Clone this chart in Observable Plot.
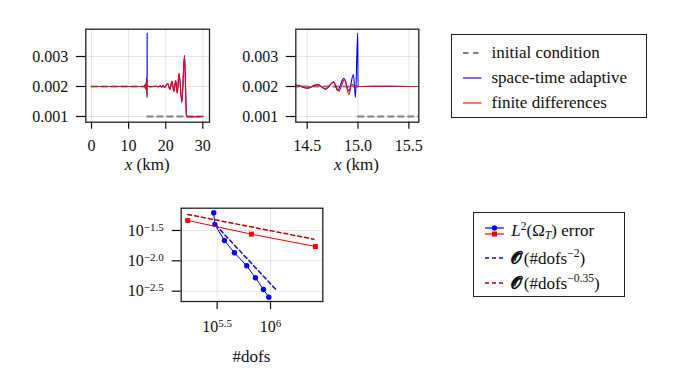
<!DOCTYPE html>
<html><head><meta charset="utf-8">
<script src="https://cdn.jsdelivr.net/npm/d3@7"></script>
<script src="https://cdn.jsdelivr.net/npm/@observablehq/plot@0.6"></script>
<style>
body{margin:0;background:#fff;}
#fig{position:relative;width:676px;height:387px;background:#fff;font-family:'Liberation Serif',serif;color:#111;overflow:hidden;}
#fig svg.pl{position:absolute;overflow:visible;}
.leg{position:absolute;border:1.3px solid #222;box-sizing:border-box;background:#fff;font-size:17px;font-family:'Liberation Serif',serif;}
.row{position:absolute;left:0;right:0;height:24px;}
.row svg{position:absolute;left:0;top:0;}
.row span.t{position:absolute;top:1px;white-space:nowrap;line-height:22px;}
sup{font-size:0.68em;vertical-align:0;position:relative;top:-0.55em;}
sub{font-size:0.68em;vertical-align:0;position:relative;top:0.3em;}
.cal{display:inline-block;font-family:'DejaVu Sans',sans-serif;font-weight:bold;font-size:17px;margin-right:1.5px;}
</style></head>
<body><div id="fig"></div>
<script>
// ---------- panel (a) / (b): solution profiles ----------
const icX = [0, 15, 15, 30];
const icY = [0.002, 0.002, 0.001, 0.001];
const icPart = ["upstream", "upstream", "downstream", "downstream"];

const fdX = [0, 14.3, 14.375, 14.42, 14.5, 14.6, 14.68, 14.76, 14.81, 14.87, 14.91, 14.94, 14.96, 15.0,
  15.3, 15.9, 16.6, 17.3, 18.0, 18.5, 18.9, 19.3, 19.7, 20.1, 20.57, 21.1, 21.67, 22.2, 22.7, 23.1, 23.6, 24.35, 25.07, 25.6, 25.9, 30];
const fdY = [0.002, 0.002, 0.00204, 0.00202, 0.00195, 0.00207, 0.00192, 0.00216, 0.00184, 0.00224, 0.00173, 0.00208, 0.002, 0.002,
  0.00201, 0.00199, 0.002, 0.00201, 0.00199, 0.00202, 0.00198, 0.00203, 0.00197, 0.00204, 0.00209, 0.0019, 0.00217, 0.00184, 0.0022, 0.00178, 0.00244, 0.00148, 0.00303, 0.00103, 0.00099, 0.001];

const adX = [0, 14.3, 14.375, 14.42, 14.5, 14.6, 14.68, 14.76, 14.8, 14.86, 14.91, 14.955, 14.975, 14.997, 15.0,
  15.3, 15.9, 16.6, 17.3, 18.0, 18.5, 18.9, 19.3, 19.7, 20.1, 20.57, 21.1, 21.67, 22.2, 22.7, 23.1, 23.6, 24.35, 25.07, 25.6, 25.9, 30];
const adY = [0.002, 0.002, 0.00205, 0.00203, 0.00194, 0.00206, 0.00191, 0.00214, 0.00187, 0.00227, 0.00185, 0.0024, 0.00163, 0.00378, 0.002,
  0.00201, 0.00199, 0.002, 0.00201, 0.00199, 0.00202, 0.00198, 0.00203, 0.00197, 0.00204, 0.00209, 0.0019, 0.00217, 0.00184, 0.0022, 0.00178, 0.00244, 0.00148, 0.00303, 0.00103, 0.00099, 0.001];

const yTicksAB = [0.001, 0.002, 0.003];
const xTicksA = [0, 10, 20, 30];
const xTicksB = [14.5, 15.0, 15.5];

// ---------- panel (c): convergence ----------
const adDofs = [293800, 300600, 369800, 459200, 598400, 722800, 859000, 963800];
const adErr = [0.0619, 0.0397, 0.0216, 0.01355, 0.00828, 0.00525, 0.00337, 0.00252];
const fdDofs = [167500, 662200, 2636000];
const fdErr = [0.0462, 0.0275, 0.0172];
const rate2Dofs = [304800, 1130000];
const rate2Err = [0.0393, 0.00333];
const rate035Dofs = [167500, 2547000];
const rate035Err = [0.0581, 0.02275];
const xTickExpC = [5.5, 6];
const xTickLabC = ["10^5.5", "10^6"];
const yTickExpC = [-1.5, -2.0, -2.5];
const yTickLabC = ["10^\u22121.5", "10^\u22122.0", "10^\u22122.5"];

// ---------- legends ----------
const legendA = ["initial condition", "space-time adaptive", "finite differences"];
const legendC = ['<i>L</i><sup>2</sup>(\u03A9<sub><i>T</i></sub>) error',
                 '<span class="cal">\uD835\uDCDE</span>(#dofs<sup>\u22122</sup>)',
                 '<span class="cal">\uD835\uDCDE</span>(#dofs<sup>\u22120.35</sup>)'];

const BLUE = "#0000ff", RED = "#ff0000", GRAY = "#808080", DBLUE = "#1010cc", DRED = "#c00000";
const FONT = "'Liberation Serif', serif";

const ic = icX.map((x, i) => ({x, y: icY[i], part: icPart[i]}));
const fd = fdX.map((x, i) => ({x, y: fdY[i]}));
const ad = adX.map((x, i) => ({x, y: adY[i]}));

const fig = document.getElementById("fig");
const baseStyle = {background: "transparent", fontFamily: FONT, fontSize: "16px", color: "#111", overflow: "visible"};
const gridOpt = {stroke: "#000", strokeOpacity: 0.1, strokeWidth: 1};

function place(svg, left, top) {
  svg.classList.add("pl");
  svg.style.left = left + "px";
  svg.style.top = top + "px";
  svg.style.maxWidth = "none";
  svg.setAttribute("font-family", FONT);
  fig.appendChild(svg);
  return svg;
}
function addLabel(svg, x, y, italicPart, rest) {
  const t = d3.select(svg).append("text").attr("x", x).attr("y", y).attr("text-anchor", "middle")
    .style("font-family", FONT).attr("font-size", 17).attr("fill", "#111");
  if (italicPart) t.append("tspan").attr("font-style", "italic").text(italicPart);
  t.append("tspan").text(rest);
}
function profilePanel(xDomain, xTicks, fmt, W, mL, mR, clip) {
  return Plot.plot({
    width: W, height: 180,
    marginLeft: mL, marginRight: mR, marginTop: 28.7, marginBottom: 58.3,
    style: baseStyle,
    x: {domain: xDomain, label: null},
    y: {domain: [0.00081, 0.00391], label: null},
    marks: [
      Plot.gridX(xTicks, gridOpt),
      Plot.gridY(yTicksAB, gridOpt),
      Plot.line(ic, {x: "x", y: "y", z: "part", stroke: GRAY, strokeWidth: 2, strokeDasharray: "5.5,4.5", clip}),
      Plot.line(ad, {x: "x", y: "y", stroke: BLUE, strokeWidth: 1.1, curve: "monotone-x", clip}),
      Plot.line(fd, {x: "x", y: "y", stroke: RED, strokeWidth: 1.1, curve: "monotone-x", clip}),
      Plot.frame({stroke: "#222", strokeWidth: 1.3}),
      Plot.axisX({ticks: xTicks, tickFormat: fmt, tickSize: 7, tickPadding: 10, label: null, strokeWidth: 1.2}),
      Plot.axisY({ticks: yTicksAB, tickFormat: d3.format(".3f"), tickSize: 9.5, tickPadding: 8, label: null, strokeWidth: 1.2})
    ]
  });
}

// Panel A
const pA = place(profilePanel([-1.54, 31.8], xTicksA, d => String(d), 225, 85.3, 16, false), 0, 0);
addLabel(pA, 147.2, 170, "x", " (km)");
// Panel B
const pB = place(profilePanel([14.388, 15.598], xTicksB, d3.format(".1f"), 200, 70.3, 6.7, true), 225, 0);
addLabel(pB, 131.5, 170, "x", " (km)");

// Panel C
const ad2 = adDofs.map((d, i) => ({d, e: adErr[i]}));
const fd2 = fdDofs.map((d, i) => ({d, e: fdErr[i]}));
const r2 = rate2Dofs.map((d, i) => ({d, e: rate2Err[i]}));
const r035 = rate035Dofs.map((d, i) => ({d, e: rate035Err[i]}));
const xTicksC = xTickExpC.map(p => Math.pow(10, p));
const yTicksC = yTickExpC.map(p => Math.pow(10, p));
const nearest = (arrExp, labels) => d => {
  const l = Math.log10(d);
  let best = 0;
  arrExp.forEach((p, i) => { if (Math.abs(p - l) < Math.abs(arrExp[best] - l)) best = i; });
  return labels[best];
};
const pC = place(Plot.plot({
  width: 240, height: 190,
  marginLeft: 80.7, marginRight: 17.7, marginTop: 17.7, marginBottom: 79,
  style: baseStyle,
  x: {type: "log", domain: [Math.pow(10, 5.163), Math.pow(10, 6.49)], label: null},
  y: {type: "log", domain: [Math.pow(10, -2.67), Math.pow(10, -1.133)], label: null},
  marks: [
    Plot.gridX(xTicksC, gridOpt),
    Plot.gridY(yTicksC, gridOpt),
    Plot.line(r2, {x: "d", y: "e", stroke: DBLUE, strokeWidth: 1.5, strokeDasharray: "4,3"}),
    Plot.line(r035, {x: "d", y: "e", stroke: DRED, strokeWidth: 1.5, strokeDasharray: "4,3"}),
    Plot.line(ad2, {x: "d", y: "e", stroke: BLUE, strokeWidth: 1}),
    Plot.dot(ad2, {x: "d", y: "e", fill: BLUE, r: 2.7}),
    Plot.line(fd2, {x: "d", y: "e", stroke: RED, strokeWidth: 1}),
    Plot.dot(fd2, {x: "d", y: "e", fill: RED, symbol: "square", r: 2.8}),
    Plot.frame({stroke: "#222", strokeWidth: 1.3}),
    Plot.axisX({ticks: xTicksC, tickFormat: nearest(xTickExpC, xTickLabC), tickSize: 8, tickPadding: 11, label: null, strokeWidth: 1.2}),
    Plot.axisY({ticks: yTicksC, tickFormat: nearest(yTickExpC, yTickLabC), tickSize: 9, tickPadding: 8.4, label: null, strokeWidth: 1.2})
  ]
}), 100, 190);
d3.select(pC).selectAll("text").each(function () {
  const s = this.textContent;
  const k = s.indexOf("^");
  if (k < 0) return;
  const t = d3.select(this);
  t.selectAll("*").remove();
  t.text(null);
  t.append("tspan").text(s.slice(0, k));
  t.append("tspan").attr("dy", "-0.45em").attr("font-size", "11px").text(s.slice(k + 1));
});
addLabel(pC, 151.5, 172, null, "#dofs");

// Legend A
const legA = d3.select(fig).append("div").attr("class", "leg")
  .style("left", "451px").style("top", "34.3px").style("width", "196px").style("height", "84px");
const styleA = [{c: GRAY, w: 2, dash: "5.5,4.5"}, {c: BLUE, w: 1.1, dash: null}, {c: RED, w: 1.1, dash: null}];
const rowTopA = [5.4, 31, 55.4];
legendA.forEach((name, i) => {
  const r = legA.append("div").attr("class", "row").style("top", rowTopA[i] + "px");
  const s = r.append("svg").attr("width", 40).attr("height", 24);
  s.append("line").attr("x1", 11).attr("x2", 29.5).attr("y1", 12).attr("y2", 12)
    .attr("stroke", styleA[i].c).attr("stroke-width", styleA[i].w).attr("stroke-dasharray", styleA[i].dash);
  r.append("span").attr("class", "t").style("left", "39.5px").text(name);
});

// Legend C
const legC = d3.select(fig).append("div").attr("class", "leg")
  .style("left", "473.3px").style("top", "211.7px").style("width", "152px").style("height", "85px");
const rowTopC = [6.3, 33, 58];
legendC.forEach((html, i) => {
  const r = legC.append("div").attr("class", "row").style("top", rowTopC[i] + "px");
  const s = r.append("svg").attr("width", 40).attr("height", 24);
  if (i === 0) {
    s.append("line").attr("x1", 11).attr("x2", 30).attr("y1", 9).attr("y2", 9).attr("stroke", BLUE).attr("stroke-width", 1.2);
    s.append("circle").attr("cx", 20.5).attr("cy", 9).attr("r", 2.7).attr("fill", BLUE);
    s.append("line").attr("x1", 11).attr("x2", 30).attr("y1", 15).attr("y2", 15).attr("stroke", RED).attr("stroke-width", 1.2);
    s.append("rect").attr("x", 18).attr("y", 12.5).attr("width", 5).attr("height", 5).attr("fill", RED);
  } else {
    s.append("line").attr("x1", 11).attr("x2", 30).attr("y1", 12).attr("y2", 12)
      .attr("stroke", i === 1 ? DBLUE : DRED).attr("stroke-width", 1.5).attr("stroke-dasharray", "4,3");
  }
  r.append("span").attr("class", "t").style("left", "37px").html(html);
});
</script></body></html>
